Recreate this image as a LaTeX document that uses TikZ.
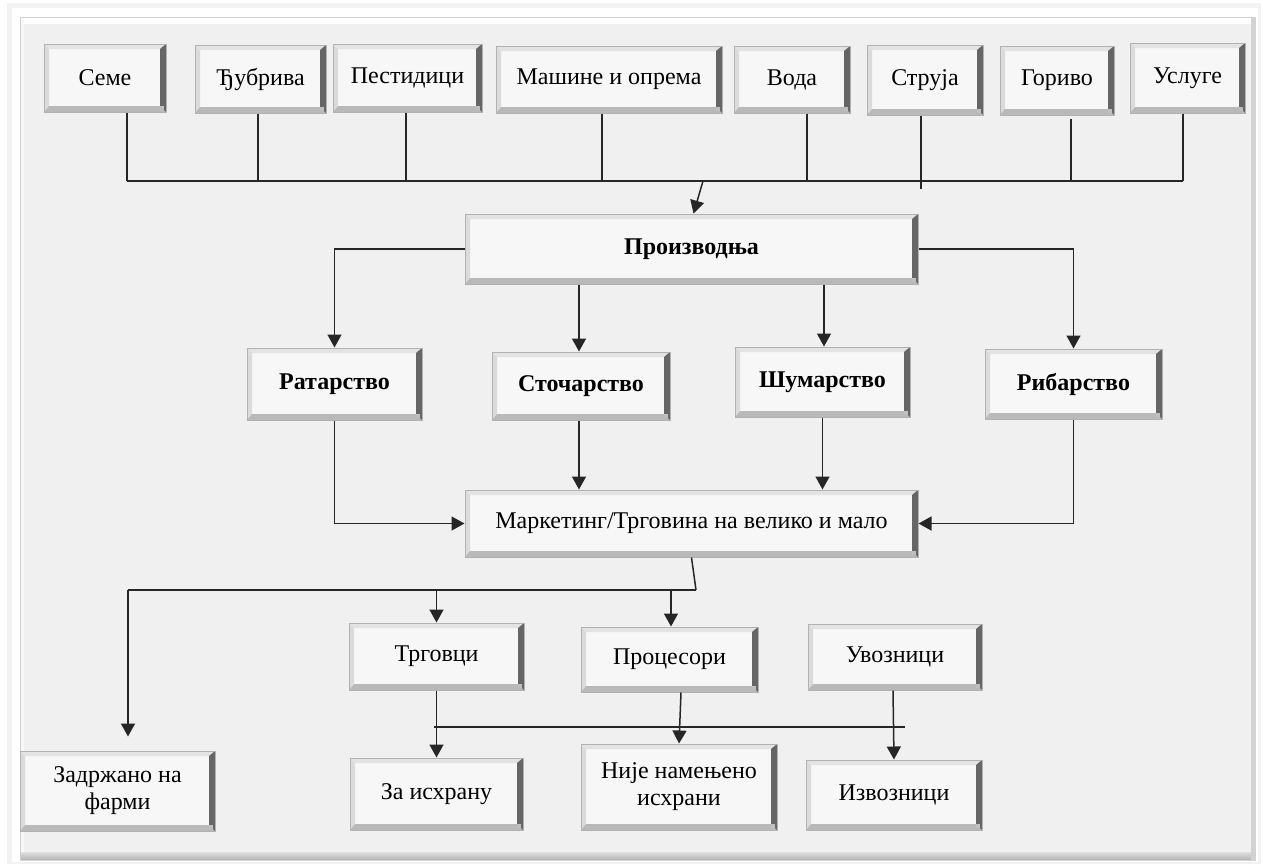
\documentclass[tikz,border=0pt]{standalone}
\usepackage{fontspec}
\setmainfont{Liberation Serif}
\usetikzlibrary{arrows.meta}
\tikzset{
  bx/.style={draw=gray!60, line width=0.5pt, fill=gray!6, align=center, inner sep=1pt,
    font=\fontsize{12}{13.5}\selectfont,
    path picture={
      \path (path picture bounding box.south west) coordinate (bSW)
            (path picture bounding box.north east) coordinate (bNE)
            (path picture bounding box.north west) coordinate (bNW)
            (path picture bounding box.south east) coordinate (bSE);
      \fill[gray!22] (bNW) -- (bNE) -- ([shift={(-3pt,-2.5pt)}]bNE) -- ([shift={(2.5pt,-2.5pt)}]bNW) -- cycle;
      \fill[gray!28] (bNW) -- (bSW) -- ([shift={(2.5pt,3pt)}]bSW) -- ([shift={(2.5pt,-2.5pt)}]bNW) -- cycle;
      \fill[gray!55] (bSW) -- (bSE) -- ([shift={(-3pt,3pt)}]bSE) -- ([shift={(2.5pt,3pt)}]bSW) -- cycle;
      \fill[gray!80!black] (bNE) -- (bSE) -- ([shift={(-3pt,3pt)}]bSE) -- ([shift={(-3pt,-2.5pt)}]bNE) -- cycle;
      \fill[gray!50] ([shift={(-1.2pt,1.2pt)}]bSE) rectangle ([shift={(-3pt,3pt)}]bSE);
    }},
  bxb/.style={bx, font=\fontsize{12}{13.5}\selectfont\bfseries},
  ln/.style={draw=black!85, line width=0.75pt},
  arr/.style={ln, -{Triangle[length=6.5pt,width=7pt]}}
}
\begin{document}
\begin{tikzpicture}[x=0.5pt, y=-0.5pt]
\useasboundingbox (0,0) rectangle (1263,864);
% frame
\fill[white] (0,0) rectangle (1263,864);
\fill[gray!10] (7,3) rectangle (1261,864);
\fill[white] (12,8) rectangle (1258,862);
\fill[gray!12] (20,17) rectangle (1255,860);
\fill[white] (20,17) rectangle (1255,24);
\fill[white!70!gray!20] (20,17) rectangle (24,860);
\shade[top color=gray!25, bottom color=gray!60] (20,852) rectangle (1255,860);
\fill[gray!35] (1251,17) rectangle (1255,860);
\draw[gray!35, line width=0.4pt] (20,17) rectangle (1255,860);

% top inputs
\node[bx, minimum width=61pt,   minimum height=34pt]   (seme)   at (105,78)    {Семе};
\node[bx, minimum width=65.5pt, minimum height=34pt]   (djub)   at (260.5,79)  {Ђубрива};
\node[bx, minimum width=74.5pt, minimum height=34pt]   (pest)   at (407.5,78)  {Пестидици};
\node[bx, minimum width=113pt,  minimum height=33.5pt] (mas)    at (609,79.5)  {Машине и опрема};
\node[bx, minimum width=58pt,   minimum height=33.5pt] (voda)   at (792,79.5)  {Вода};
\node[bx, minimum width=58pt,   minimum height=35pt]   (struja) at (925,80)    {Струја};
\node[bx, minimum width=57pt,   minimum height=34.5pt] (gorivo) at (1057,80.5) {Гориво};
\node[bx, minimum width=57.5pt, minimum height=35pt]   (usluge) at (1187.5,78) {Услуге};

% production
\node[bxb, minimum width=226.5pt, minimum height=35pt] (proiz) at (691.5,249) {Производња};
\node[bxb, minimum width=87.5pt, minimum height=36pt] (rat)  at (334.5,384) {Ратарство};
\node[bxb, minimum width=89pt,   minimum height=34pt] (stoc) at (581,386)   {Сточарство};
\node[bxb, minimum width=87.5pt, minimum height=35pt] (sum)  at (822.5,382) {Шумарство};
\node[bxb, minimum width=88.5pt, minimum height=35pt] (rib)  at (1073.5,384) {Рибарство};

\node[bx, minimum width=226.5pt, minimum height=33.5pt] (mark) at (691.5,523.5) {Маркетинг/Трговина на велико и мало};

\node[bx, minimum width=87.5pt, minimum height=33.5pt] (trg)  at (436.5,656.5) {Трговци};
\node[bx, minimum width=88.5pt, minimum height=32.5pt] (proc) at (669.5,659.5) {Процесори};
\node[bx, minimum width=87pt,   minimum height=33pt]   (uvoz) at (895,657)     {Увозници};

\node[bx, minimum width=97.5pt, minimum height=40pt] (zadr)  at (117.5,791) {Задржано на\\фарми};
\node[bx, minimum width=86.5pt, minimum height=36pt] (zaish) at (436.5,794) {За исхрану};
\node[bx, minimum width=98pt,   minimum height=43pt] (nije)  at (679,787)   {Није намењено\\исхрани};
\node[bx, minimum width=88pt,   minimum height=35pt] (izvoz) at (894,795)   {Извозници};

% top bus
\coordinate (b1) at (127,181);
\coordinate (b2) at (258,181);
\coordinate (b3) at (406,181);
\coordinate (b4) at (602,181);
\coordinate (b5) at (807,181);
\coordinate (b6) at (921,189);
\coordinate (b7) at (1071,181);
\coordinate (b8) at (1183,181);
\coordinate (bA) at (703,181);
\draw[ln] (b1) -- (b8);
\draw[ln] (b1 |- seme.south) -- (b1);
\draw[ln] (b2 |- djub.south) -- (b2);
\draw[ln] (b3 |- pest.south) -- (b3);
\draw[ln] (b4 |- mas.south) -- (b4);
\draw[ln] (b5 |- voda.south) -- (b5);
\draw[ln] (b6 |- struja.south) -- (b6);
\draw[ln] ([yshift=-1.5pt]b7 |- gorivo.south) -- (b7);
\draw[ln] (b8 |- usluge.south) -- (b8);
\draw[arr] (bA) -- ([xshift=1pt]proiz.north);

% production branches
\draw[arr] (proiz.west) -| (rat.north);
\draw[arr] (proiz.east) -| (rib.north);
\draw[arr] ([xshift=-1pt]stoc.north |- proiz.south) -- ([xshift=-1pt]stoc.north);
\draw[arr] ([xshift=0.75pt]sum.north |- proiz.south) -- ([xshift=0.75pt]sum.north);

\draw[arr] (rat.south) |- (mark.west);
\draw[arr] (rib.south) |- (mark.east);
\draw[arr] ([xshift=-1pt]stoc.south) -- ([xshift=-1pt]stoc.south |- mark.north);
\draw[arr] (sum.south) -- (sum.south |- mark.north);

% marketing outputs
\coordinate (m1) at (696,590);
\coordinate (m0) at (128,590);
\draw[ln] (mark.south) -- (m1);
\draw[ln] (m1) -- (m0);
\draw[arr, shorten >=7pt] (m0) -- (m0 |- zadr.north);
\draw[arr] (trg.north |- m0) -- (trg.north);
\draw[arr] ([xshift=0.75pt]proc.north |- m0) -- ([xshift=0.75pt]proc.north);

% lower bus
\coordinate (n0) at (434,727);
\coordinate (n1) at (905,727);
\draw[ln] (n0) -- (n1);
\draw[arr] (trg.south) -- (zaish.north);
\draw[arr] ([xshift=5.75pt]proc.south) -- (nije.north);
\draw[arr] ([xshift=-1pt]uvoz.south) -- (izvoz.north);
\end{tikzpicture}
\end{document}
